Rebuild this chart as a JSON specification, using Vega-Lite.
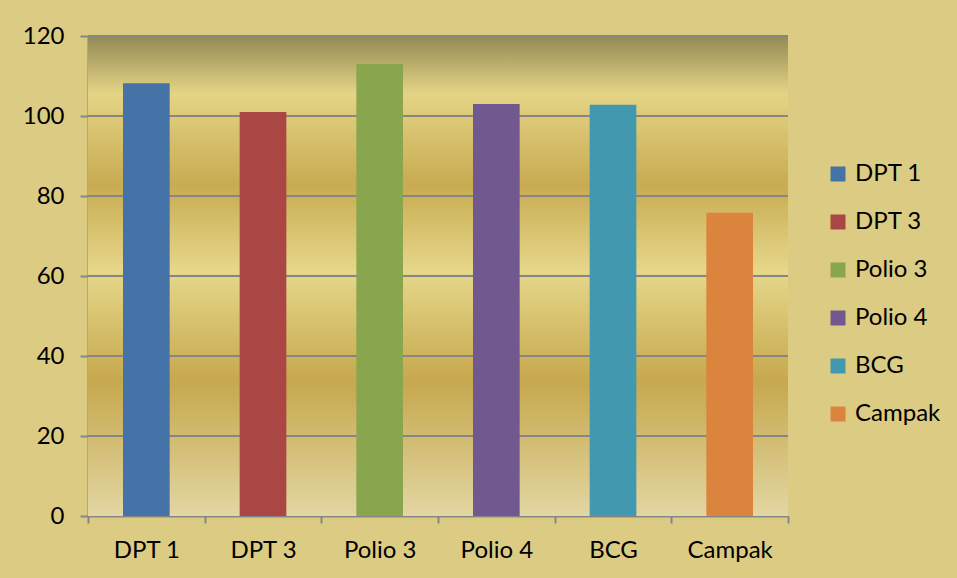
{
  "$schema": "https://vega.github.io/schema/vega-lite/v6.json",
  "width": 700,
  "height": 480,
  "autosize": {"type": "none"},
  "padding": {"left": 88, "top": 36, "right": 169, "bottom": 62},
  "background": "#dccb82",
  "config": {
    "view": {"stroke": null},
    "font": "Lato",
    "axis": {"labelFont": "Lato", "labelFontSize": 24, "labelColor": "#000000", "domainColor": "#868686", "domainWidth": 2, "tickColor": "#868686", "tickWidth": 2, "gridColor": "#868686", "gridWidth": 2, "title": null}
  },
  "datasets": {
    "bg": [{"lo": 0, "hi": 120}],
    "grid": [{"v": 20}, {"v": 40}, {"v": 60}, {"v": 80}, {"v": 100}, {"v": 120}],
    "imun": [
      {"vaksin": "DPT 1", "nilai": 108.2},
      {"vaksin": "DPT 3", "nilai": 101},
      {"vaksin": "Polio 3", "nilai": 113},
      {"vaksin": "Polio 4", "nilai": 103},
      {"vaksin": "BCG", "nilai": 102.8},
      {"vaksin": "Campak", "nilai": 75.8}
    ]
  },
  "layer": [
    {
      "data": {"name": "bg"},
      "mark": {"type": "rect", "fill": {"gradient": "linear", "x1": 0, "y1": 0, "x2": 0, "y2": 1, "stops": [
        {"offset": 0, "color": "#928955"},
        {"offset": 0.12, "color": "#e4d485"},
        {"offset": 0.31, "color": "#c8ab52"},
        {"offset": 0.49, "color": "#e6d78a"},
        {"offset": 0.72, "color": "#c6a84e"},
        {"offset": 1, "color": "#e2d6a2"}
      ]}},
      "encoding": {
        "y": {"field": "lo", "type": "quantitative", "scale": {"domain": [0, 120]}},
        "y2": {"field": "hi"}
      }
    },
    {
      "data": {"name": "grid"},
      "mark": {"type": "rule", "color": "#868686", "strokeWidth": 2},
      "encoding": {
        "y": {"field": "v", "type": "quantitative"}
      }
    },
    {
      "data": {"name": "imun"},
      "mark": {"type": "bar", "width": {"band": 0.4}},
      "encoding": {
        "x": {"field": "vaksin", "type": "nominal", "sort": null,
          "scale": {"paddingInner": 0, "paddingOuter": 0},
          "axis": {"labelAngle": 0, "tickBand": "extent", "tickSize": 7, "labelPadding": 15, "grid": false}},
        "y": {"field": "nilai", "type": "quantitative",
          "scale": {"domain": [0, 120]},
          "axis": {"values": [0, 20, 40, 60, 80, 100, 120], "tickSize": 8, "labelPadding": 16, "grid": false}},
        "color": {"field": "vaksin", "type": "nominal", "sort": null,
          "scale": {"domain": ["DPT 1", "DPT 3", "Polio 3", "Polio 4", "BCG", "Campak"], "range": ["#4572a7", "#aa4643", "#89a54e", "#71588f", "#4198af", "#db843d"]},
          "legend": {"title": null, "orient": "none", "legendX": 738, "legendY": 126, "symbolType": "square", "symbolSize": 225, "symbolStrokeWidth": 0, "symbolOpacity": 1, "labelFont": "Lato", "labelFontSize": 24, "labelColor": "#000000", "rowPadding": 24, "labelOffset": 5}}
      }
    }
  ]
}
